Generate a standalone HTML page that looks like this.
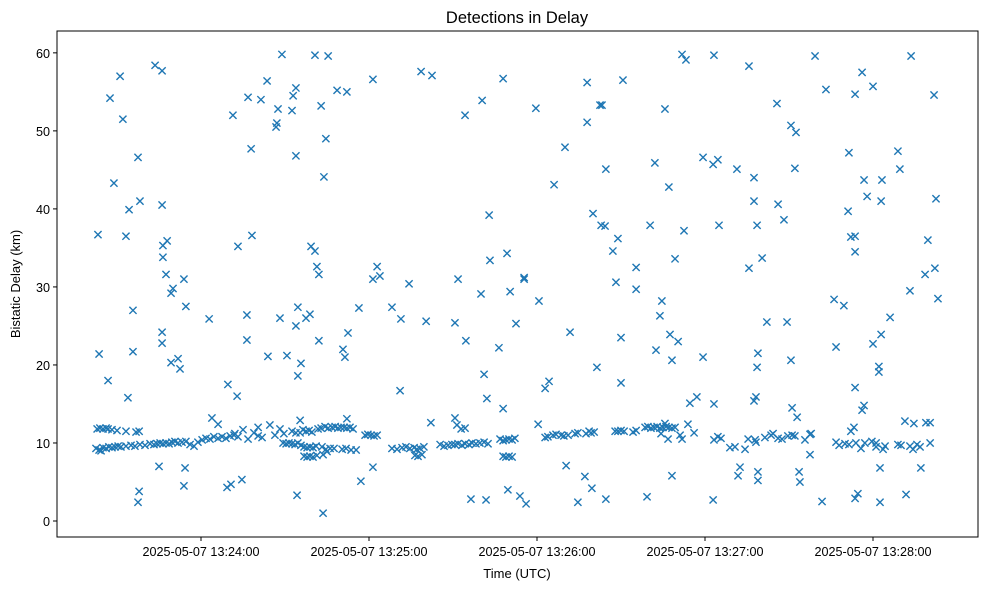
<!DOCTYPE html>
<html><head><meta charset="utf-8"><style>
html,body{margin:0;padding:0;background:#fff;}
svg{display:block;font-family:"Liberation Sans","DejaVu Sans",sans-serif;}
</style></head><body>
<svg id="chart" width="989" height="590" viewBox="0 0 989 590">
<rect x="0" y="0" width="989" height="590" fill="#fff"/>
<text x="517" y="23" text-anchor="middle" font-size="16.5" fill="#000">Detections in Delay</text>
<g id="marks"></g>
<g id="axes"></g>
<rect x="57" y="31" width="921" height="506" fill="none" stroke="#000" stroke-width="1"/>
<text x="517" y="578" text-anchor="middle" font-size="13" fill="#000">Time (UTC)</text>
<text x="0" y="0" transform="translate(20,284) rotate(-90)" text-anchor="middle" font-size="13" fill="#000">Bistatic Delay (km)</text>
</svg>
<script>
// seconds after 13:23:00 UTC
const xTickSeconds = [60, 120, 180, 240, 300];
const xTickLabels = ["2025-05-07 13:24:00","2025-05-07 13:25:00","2025-05-07 13:26:00","2025-05-07 13:27:00","2025-05-07 13:28:00"];
const yTickValues = [0, 10, 20, 30, 40, 50, 60];
// [seconds after 13:23:00, bistatic delay km]
const detections = [
[23.2,36.7],[23.6,21.4],[26.8,18],[27.5,54.2],[28.9,43.3],[31.1,57],[32.1,51.5],[33.2,36.5],[34.3,39.9],[33.9,15.8],
[35.7,27],[35.7,21.7],[37.5,46.6],[38.2,41],[37.9,3.8],[37.5,2.4],[43.6,58.4],[46.1,57.7],[46.1,40.5],[46.4,35.3],
[47.9,35.9],[46.4,33.8],[47.5,31.6],[46.1,24.2],[46.1,22.8],[49.3,29.2],[50,29.8],[49.3,20.3],[51.8,20.8],[52.5,19.5],
[53.9,31],[54.6,27.5],[45,7],[54.3,6.8],[53.9,4.5],[62.9,25.9],[69.6,17.5],[72.9,16],[69.3,4.3],[70.7,4.7],
[74.6,5.3],[71.4,52],[73.2,35.2],[76.8,54.3],[77.9,47.7],[78.2,36.6],[76.4,26.4],[76.4,23.2],[81.4,54],[83.6,56.4],
[83.9,21.1],[86.8,50.5],[87.1,51],[87.5,52.8],[88.9,59.8],[90.7,21.2],[92.5,52.6],[92.9,54.5],[93.9,55.5],[93.9,46.8],
[88.2,26],[93.9,25],[94.6,27.4],[95.7,20.2],[94.6,18.6],[94.3,3.3],[97.5,26],[98.9,26.5],[99.3,35.2],[100.7,34.6],
[100.7,59.7],[101.4,32.6],[102.1,31.6],[102.9,53.2],[103.9,44.1],[104.6,49],[105.4,59.6],[102.1,23.1],[108.6,55.2],[112.1,55],
[110.7,22],[111.4,21],[112.5,24.1],[116.4,27.3],[117.1,5.1],[121.4,56.6],[121.4,31],[122.9,32.6],[123.9,31.4],[121.4,6.9],
[103.6,1],[128.2,27.4],[131.1,16.7],[131.4,25.9],[134.3,30.4],[138.6,57.6],[140.4,25.6],[142.5,57.1],[142.1,12.6],[150.7,25.4],
[151.8,31],[154.3,52],[154.6,23.1],[160,29.1],[160.4,53.9],[161.1,18.8],[162.1,15.7],[162.9,39.2],[163.2,33.4],[166.4,22.2],
[167.9,14.4],[167.9,56.7],[169.3,34.3],[170.4,29.4],[169.6,4],[172.5,25.3],[173.9,3.2],[176.1,2.2],[175.4,31],[175.4,31.2],
[179.6,52.9],[180.7,28.2],[156.4,2.8],[161.8,2.7],[182.9,17],[184.3,17.9],[186.1,43.1],[190,47.9],[191.8,24.2],[190.4,7.1],
[194.6,2.4],[197.1,5.7],[197.9,56.2],[197.9,51.1],[199.6,4.2],[200,39.4],[201.4,19.7],[202.5,53.3],[203.2,53.3],[202.9,37.9],
[204.3,37.8],[204.6,45.1],[204.6,2.8],[207.1,34.6],[208.2,30.6],[208.9,36.2],[210,23.5],[210,17.7],[210.7,56.5],[215.4,32.5],
[215.4,29.7],[219.3,3.1],[220.4,37.9],[222.1,45.9],[222.5,21.9],[223.9,26.3],[224.6,28.2],[225.7,52.8],[227.1,42.8],[227.5,23.9],
[228.2,20.6],[228.2,5.8],[229.3,33.6],[230.4,23],[231.8,59.8],[233.2,59.1],[232.5,37.2],[234.6,15.1],[237.1,15.9],[239.3,46.6],
[239.3,21],[242.9,45.7],[243.2,59.7],[244.6,46.3],[245,37.9],[242.9,2.7],[243.2,15],[251.4,45.1],[251.8,5.8],[252.5,6.9],
[255.7,58.3],[255.7,32.4],[257.5,41],[257.5,44],[258.6,37.9],[258.9,21.5],[258.6,19.7],[257.5,15.4],[258.2,15.9],[258.9,6.3],
[258.9,5.2],[260.4,33.7],[262.1,25.5],[265.7,53.5],[266.1,40.6],[268.2,38.6],[269.3,25.5],[270.7,20.6],[270.7,50.7],[271.1,14.5],
[272.1,45.2],[272.5,49.8],[272.9,13.3],[273.6,6.3],[273.9,5],[277.5,8.5],[277.5,11.1],[279.3,59.6],[281.8,2.5],[283.2,55.3],
[286.1,28.4],[286.8,22.3],[289.6,27.6],[291.1,39.7],[291.4,47.2],[292.1,36.4],[293.6,34.5],[293.6,36.5],[293.6,54.7],[293.6,17.1],
[293.6,2.9],[294.6,3.5],[296.1,57.5],[296.8,43.7],[297.9,41.6],[296.1,14.2],[296.8,14.8],[300,55.7],[300,22.7],[302.1,19.8],
[302.1,19.1],[302.5,2.4],[303.2,43.7],[302.9,41],[302.9,23.9],[302.5,6.8],[306.1,26.1],[308.9,47.4],[309.6,45.1],[311.4,12.8],
[311.8,3.4],[313.2,29.5],[313.6,59.6],[314.6,12.5],[317.1,6.8],[318.6,31.6],[319.6,36],[320.4,12.6],[321.8,54.6],[322.1,32.4],
[322.5,41.3],[323.2,28.5],[301.1,9.5],[303.6,9.2],
[22.9,11.8],[23.9,11.9],[25,11.8],[26.1,11.9],[26.8,11.8],[28.2,11.7],[30,11.6],[33.2,11.5],[36.8,11.4],[37.9,11.5],
[22.5,9.3],[23.6,9.1],[24.3,9.0],[25,9.4],[26.1,9.3],[27.1,9.5],[28.2,9.4],[29.3,9.5],[30.4,9.6],[31.4,9.5],
[33.2,9.6],[35,9.7],[36.4,9.6],[38.2,9.8],[40,9.7],[41.8,9.9],[43.2,9.8],[44.3,9.9],[45.4,10],[46.4,9.9],
[47.5,10],[48.6,9.9],[49.6,10.1],[50.7,10.2],[51.8,10],[53.2,10.1],[54.6,10.2],[56.1,9.8],[57.5,9.6],[58.9,10.1],
[60.4,10.4],[61.8,10.6],[63.2,10.5],[64.6,10.8],[66.1,10.6],[67.5,10.8],[68.9,10.6],[70.4,10.9],[71.8,11],[73.2,10.8],
[63.9,13.2],[66.1,12.4],[72.1,11.2],[75,11.7],[76.8,10.5],[78.9,11.3],[80.4,12],[80.4,10.9],[81.8,10.7],[84.6,12.3],[86.4,11],
[88.2,11.8],[89.3,10],[90.4,9.9],[91.4,10],[92.5,9.9],[93.6,9.8],[94.6,10],[95.7,9.7],[89.6,11.2],[92.5,11.5],
[93.9,11.3],[95.4,11.3],[96.4,11.7],[97.5,11.5],[98.6,11.6],[99.6,11.4],
[95.4,12.9],[96.8,9.5],[97.9,9.4],[98.9,9.5],[100,9.4],[101.1,9.6],[96.8,8.3],[97.9,8.2],[98.9,8.3],[100,8.2],
[101.4,8.4],[101.8,11.8],[102.9,11.9],[104.3,12.1],[105.4,11.9],[106.8,12],[107.9,12.1],[108.9,11.9],[110,12],[111.1,12],
[112.1,11.9],[113.2,12],[114.3,11.8],[112.1,13.1],[104.6,9.2],[103.2,9.5],[106.1,9.3],[107.5,9.3],[110.4,9.2],[111.8,9.3],
[113.6,9.1],[115.4,9.1],[103.6,8.5],[105,8.9],
[118.6,11],[119.6,11.1],[120.7,11],[121.8,10.9],[122.9,11],
[128.2,9.3],[130,9.2],[131.8,9.4],[133.2,9.5],[134.6,9.3],[136.1,9.4],[137.1,9.2],[138.2,9.3],[139.6,9.5],[136.4,8.4],[137.5,8.3],[138.9,8.5],
[145.4,9.8],[146.8,9.6],[148.2,9.7],[149.6,9.8],[150.7,9.8],[151.8,9.9],[153.2,9.7],[154.3,9.9],[155.7,9.8],[156.8,10],
[158.2,9.9],[159.6,10],[161.1,10.1],[162.5,9.9],[150.7,13.2],[152.9,11.8],[154.3,11.9],[151.4,12.3],
[166.8,10.5],[167.9,10.3],[168.9,10.4],[170,10.5],[171.1,10.4],[172.1,10.6],[167.9,8.3],[168.9,8.2],[170,8.3],[171.1,8.2],
[180.4,12.4],[182.9,10.7],[183.9,10.8],[185.7,11],[186.8,11.1],[188.6,11],[189.6,10.9],[191.1,11],[193.6,11.2],[194.6,11.3],
[197.5,11.2],[198.6,11.5],[199.3,11.3],[200.4,11.4],
[207.9,11.5],[208.9,11.5],[210,11.6],[211.1,11.5],[215.4,11.6],[214.3,11.4],
[218.6,12],[219.6,12.1],[220.7,11.9],[221.8,12],[222.9,12.1],[223.9,11.9],[225,12],[226.1,12.1],[227.1,12],[228.2,11.9],
[229.3,12],[225.7,12.5],[226.8,10.5],[224.3,11.2],
[231.1,11],[231.8,10.5],[233.9,12.4],[236.1,11.3],
[243.2,10.4],[244.6,10.8],[245.7,10.6],
[248.9,9.4],[250.7,9.5],[254.3,9.2],[255.4,10.5],[257.9,10.4],[258.2,10.1],[261.4,10.7],[263.6,11],[264.3,11.2],
[266.1,10.6],[267.5,10.5],[269.6,10.9],[271.1,11],[272.1,10.9],[275.7,10.4],[277.9,11.2],
[286.8,10.1],[287.9,9.7],[290,9.9],[291.4,9.8],[292.1,11.5],[293.2,12],[293.9,10],[295.7,9.3],[297.1,10],[299.6,10.2],
[301.1,10],[304.3,9.6],
[308.9,9.8],[310,9.7],[313.2,9.6],[314.3,9.2],[315.7,9.8],[316.8,9.5],[318.9,12.6],[320.4,10]
];

const NS = "http://www.w3.org/2000/svg";
const plot = {left:57, right:978, top:31, bottom:537};
const xDomain = [8.57, 337.5];
const yDomain = [-2.05, 62.8];
function xScale(s){ return plot.left + (s - xDomain[0]) / (xDomain[1] - xDomain[0]) * (plot.right - plot.left); }
function yScale(v){ return plot.bottom - (v - yDomain[0]) / (yDomain[1] - yDomain[0]) * (plot.bottom - plot.top); }

const axes = document.getElementById('axes');
xTickSeconds.forEach((s, i) => {
  const x = xScale(s);
  const t = document.createElementNS(NS, 'line');
  t.setAttribute('x1', x); t.setAttribute('x2', x);
  t.setAttribute('y1', plot.bottom); t.setAttribute('y2', plot.bottom + 4);
  t.setAttribute('stroke', '#000');
  
  
  axes.appendChild(t);
  const lb = document.createElementNS(NS, 'text');
  lb.setAttribute('x', x); lb.setAttribute('y', plot.bottom + 19);
  lb.setAttribute('text-anchor', 'middle'); lb.setAttribute('font-size', '12.6');
  lb.textContent = xTickLabels[i];
  
  
  axes.appendChild(lb);
});
yTickValues.forEach(v => {
  const y = yScale(v);
  const t = document.createElementNS(NS, 'line');
  t.setAttribute('x1', plot.left - 4); t.setAttribute('x2', plot.left);
  t.setAttribute('y1', y); t.setAttribute('y2', y);
  t.setAttribute('stroke', '#000');
  
  
  axes.appendChild(t);
  const lb = document.createElementNS(NS, 'text');
  lb.setAttribute('x', plot.left - 7); lb.setAttribute('y', y + 5);
  lb.setAttribute('text-anchor', 'end'); lb.setAttribute('font-size', '12.6');
  lb.textContent = String(v);
  
  
  axes.appendChild(lb);
});

const marks = document.getElementById('marks');
const r = 3.6;
detections.forEach(d => {
  const cx = xScale(d[0]), cy = yScale(d[1]);
  const p = document.createElementNS(NS, 'path');
  p.setAttribute('d', `M${cx-r},${cy-r}L${cx+r},${cy+r}M${cx-r},${cy+r}L${cx+r},${cy-r}`);
  p.setAttribute('stroke', '#1f77b4');
  p.setAttribute('stroke-width', '1.4');
  p.setAttribute('fill', 'none');
  
  
  marks.appendChild(p);
});
</script>
</body></html>
